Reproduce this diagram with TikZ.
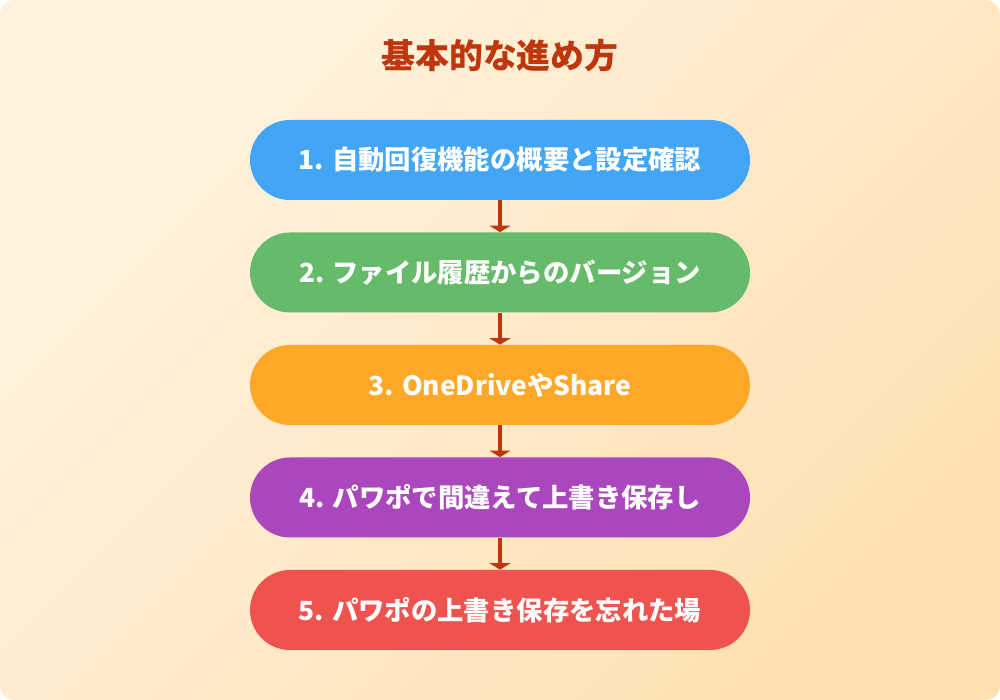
\documentclass[tikz,border=0pt]{standalone}
\usepackage{fontspec}
\setmainfont{Noto Sans CJK JP}
\usepackage{xcolor}
\usetikzlibrary{arrows.meta}
\definecolor{bgA}{HTML}{FFF3E0}
\definecolor{bgB}{HTML}{FFE0B2}
\definecolor{titlered}{HTML}{BF360C}
\definecolor{stepblue}{HTML}{42A5F5}
\definecolor{stepgreen}{HTML}{66BB6A}
\definecolor{steporange}{HTML}{FFA726}
\definecolor{steppurple}{HTML}{AB47BC}
\definecolor{stepred}{HTML}{EF5350}
\tikzset{
	stepbox/.style={shape=rectangle,rounded corners=0.8cm,minimum width=10cm,minimum height=1.6cm,text=white,font=\fontsize{15}{17}\selectfont\bfseries},
	arr/.style={-{Triangle[width=0.42cm,length=0.13cm]},line width=2.3pt,draw=titlered}
}
\begin{document}
\begin{tikzpicture}
	\useasboundingbox (0,0) rectangle (20,14);
	\shade[rounded corners=0.3cm,top color=bgA,bottom color=bgB,shading angle=45] (0,0) rectangle (20,14);
	\node[text=titlered,font=\fontsize{19.3}{21}\selectfont\bfseries] (title) at (10, 12.88) {基本的な進め方};
	\node[stepbox,fill=stepblue] (s1) at (10, 10.8) {1. 自動回復機能の概要と設定確認};
	\node[stepbox,fill=stepgreen] (s2) at (10, 8.55) {2. ファイル履歴からのバージョン};
	\node[stepbox,fill=steporange] (s3) at (10, 6.3) {3. OneDriveやShare};
	\node[stepbox,fill=steppurple] (s4) at (10, 4.05) {4. パワポで間違えて上書き保存し};
	\node[stepbox,fill=stepred] (s5) at (10, 1.8) {5. パワポの上書き保存を忘れた場};
	\draw[arr] (s1) -- (s2);
	\draw[arr] (s2) -- (s3);
	\draw[arr] (s3) -- (s4);
	\draw[arr] (s4) -- (s5);
\end{tikzpicture}
\end{document}
